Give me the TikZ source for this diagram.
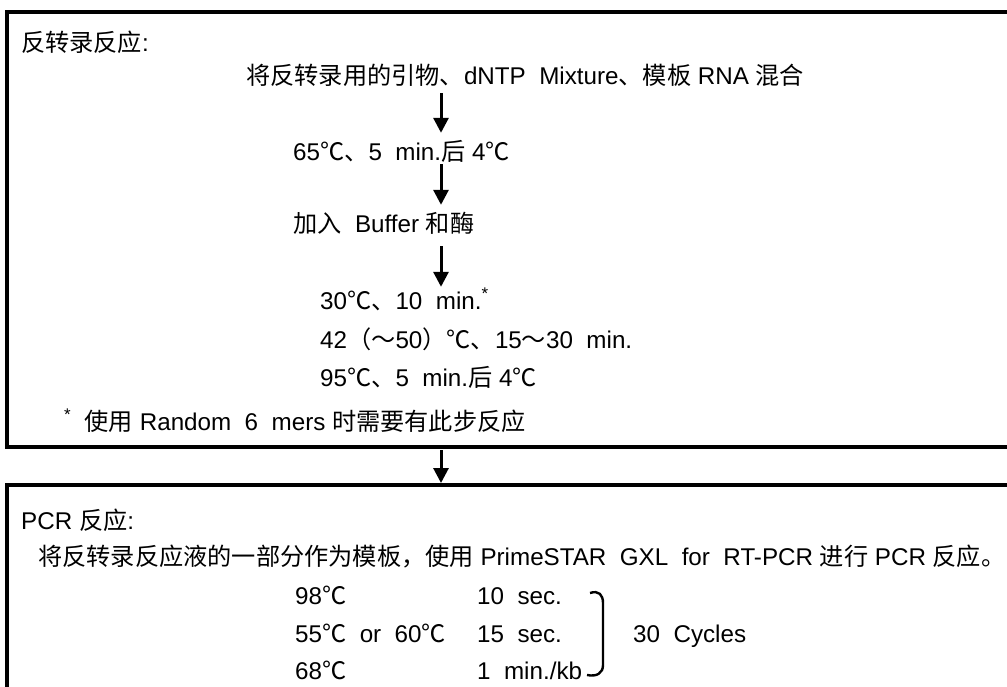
\documentclass[tikz,border=0pt]{standalone}
\usepackage{fontspec}
\setmainfont{Liberation Sans}
\newfontfamily\cjk{Noto Sans CJK SC}
\usetikzlibrary{arrows.meta}
\newcommand\zh[1]{{\cjk #1}}
\begin{document}
\begin{tikzpicture}[x=1pt,y=-1pt,
  txt/.style={anchor=base west, inner sep=0pt, text height=17pt, text depth=4pt, font=\fontsize{24.2}{28}\selectfont},
  boxline/.style={draw, line width=3.8pt, inner sep=0pt, outer sep=0pt, anchor=north west},
  arr/.style={line width=3pt, -{Triangle[width=15pt,length=15pt]}},
  brk/.style={line width=2.4pt}]
\useasboundingbox (0,0) rectangle (1007,687);
\clip (0,0) rectangle (1007,687);
\coordinate (ax) at (441,0);
% boxes
\node[boxline, minimum width=1030pt, minimum height=435pt] (box1) at (7,12) {};
\node[boxline, minimum width=1030pt, minimum height=300pt] (box2) at (7,485) {};
% box 1 texts
\node[txt] (t1) at (21,52) {\zh{反转录反应}:};
\node[txt] (mix) at (246,85) {\zh{将反转录用的引物、}dNTP\ \ Mixture\zh{、模板} RNA \zh{混合}};
\node[txt] (s65) at (293,161) {65\zh{℃、}5\ \ min.\zh{后} 4\zh{℃}};
\node[txt] (add) at (293,233) {\zh{加入}\ \ Buffer \zh{和酶}};
\node[txt] (s30) at (320,309) {30\zh{℃、}10\ \ min.\textsuperscript{*}};
\node[txt] (s42) at (320,348) {42\zh{（～}50\zh{）℃、}15\zh{～}30\ \ min.};
\node[txt] (s95) at (320,386) {95\zh{℃、}5\ \ min.\zh{后} 4\zh{℃}};
\node[txt] (note) at (64,430) {\textsuperscript{*}\ \ \zh{使用} Random\ \ 6\ \ mers \zh{时需要有此步反应}};
% arrows in box 1
\draw[arr, shorten <=4pt, shorten >=11pt] (mix.south -| ax) -- (s65.north -| ax);
\draw[arr, shorten <=-1pt, shorten >=11pt] (s65.south -| ax) -- (add.north -| ax);
\draw[arr, shorten <=9pt, shorten >=5pt] (add.south -| ax) -- (s30.north -| ax);
% arrow between boxes
\draw[arr, shorten <=3pt, shorten >=2pt] (box1.south -| ax) -- (box2.north -| ax);
% box 2 texts
\node[txt] (t2) at (21,529) {PCR \zh{反应}:};
\node[txt] (long) at (38,565) {\zh{将反转录反应液的一部分作为模板，使用} PrimeSTAR\ \ GXL\ \ for\ \ RT-PCR \zh{进行} PCR \zh{反应。}};
\node[txt] (c98) at (295,604) {98\zh{℃}};
\node[txt] (c55) at (295,642) {55\zh{℃}\ \ or\ \ 60\zh{℃}};
\node[txt] (c68) at (295,679) {68\zh{℃}};
\node[txt] (d10) at (477,604) {10\ \ sec.};
\node[txt] (d15) at (477,642) {15\ \ sec.};
\node[txt] (d1) at (477,679) {1\ \ min./kb};
\node[txt] (cyc) at (633,642) {30\ \ Cycles};
% bracket
\draw[brk] (590,593) .. controls (599,590) and (603,595) .. (603,603) -- (603,665) .. controls (603,673) and (597,677) .. (587,675);
\end{tikzpicture}
\end{document}
